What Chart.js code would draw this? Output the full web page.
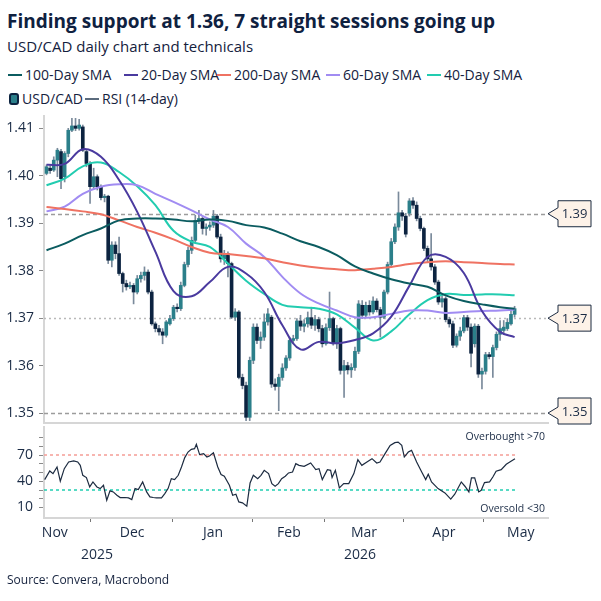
<!DOCTYPE html>
<html>
<head>
<meta charset="utf-8">
<script src="https://cdn.jsdelivr.net/npm/chart.js@4.4.1/dist/chart.umd.min.js"></script>
<style>
  body { margin: 0; background: #fff; font-family: 'Open Sans', sans-serif; color: #14213d; }
  #wrap { position: relative; width: 601px; height: 601px; overflow: hidden; }
  .t { position: absolute; left: 7px; white-space: nowrap; }
  #title { top: 7px; font-size: 19px; font-weight: 700; line-height: 28px; color: #0f2140; }
  #sub { top: 36px; font-size: 15px; line-height: 20px; }
  #src { top: 571px; font-size: 12px; line-height: 18px; }
  .leg { position: absolute; font-size: 14px; line-height: 20px; white-space: nowrap; display: flex; align-items: center; }
  .leg i { display: inline-block; width: 14px; height: 2.5px; margin-right: 3px; }
  .leg b { display: inline-block; width: 6px; height: 8px; border: 2px solid #0c2340; border-radius: 3px; background: #2b7f8a; margin-right: 3px; }
  canvas { position: absolute; left: 0; }
</style>
</head>
<body>
<div id="wrap">
  <div class="t" id="title">Finding support at 1.36, 7 straight sessions going up</div>
  <div class="t" id="sub">USD/CAD daily chart and technicals</div>
  <div id="legend"></div>
  <canvas id="main" width="601" height="320" style="top:108px"></canvas>
  <canvas id="rsi" width="601" height="150" style="top:424px"></canvas>
  <div class="t" id="src">Source: Convera, Macrobond</div>
</div>
<script>
// ── CANDLES (one per trading day, index 0 = mid-Nov 2025)
const candleOpen = [
  1.4005, 1.4016, 1.4012, 1.4033, 1.4051, 1.3998, 1.4047, 1.4096, 1.4105, 1.4100,
  1.4103, 1.4051, 1.4026, 1.3977, 1.3998, 1.3977, 1.3954, 1.3957, 1.3822, 1.3854,
  1.3836, 1.3794, 1.3773, 1.3766, 1.3769, 1.3755, 1.3783, 1.3790, 1.3797, 1.3755,
  1.3688, 1.3678, 1.3671, 1.3664, 1.3688, 1.3699, 1.3723, 1.3720, 1.3769, 1.3813,
  1.3843, 1.3864, 1.3906, 1.3910, 1.3889, 1.3892, 1.3896, 1.3915, 1.3871, 1.3825,
  1.3836, 1.3815, 1.3702, 1.3713, 1.3575, 1.3558, 1.3491, 1.3611, 1.3681, 1.3653,
  1.3660, 1.3692, 1.3702, 1.3561, 1.3556, 1.3575, 1.3595, 1.3616, 1.3653, 1.3657,
  1.3694, 1.3683, 1.3688, 1.3701, 1.3685, 1.3697, 1.3678, 1.3646, 1.3680, 1.3699,
  1.3646, 1.3678, 1.3590, 1.3600, 1.3591, 1.3596, 1.3630, 1.3727, 1.3706, 1.3727,
  1.3713, 1.3736, 1.3718, 1.3702, 1.3755, 1.3813, 1.3861, 1.3892, 1.3922, 1.3915,
  1.3921, 1.3947, 1.3938, 1.3910, 1.3889, 1.3847, 1.3825, 1.3808, 1.3776, 1.3734,
  1.3741, 1.3697, 1.3688, 1.3643, 1.3662, 1.3673, 1.3701, 1.3681, 1.3646, 1.3683,
  1.3582, 1.3588, 1.3623, 1.3619, 1.3638, 1.3666, 1.3674, 1.3678, 1.3688, 1.3708
];
const candleClose = [
  1.4019, 1.4011, 1.4033, 1.4054, 1.3994, 1.4047, 1.4096, 1.4105, 1.4100, 1.4107,
  1.4054, 1.4026, 1.3977, 1.3998, 1.3977, 1.3954, 1.3957, 1.3822, 1.3854, 1.3836,
  1.3794, 1.3773, 1.3766, 1.3769, 1.3755, 1.3783, 1.3790, 1.3797, 1.3755, 1.3688,
  1.3678, 1.3671, 1.3664, 1.3692, 1.3699, 1.3723, 1.3720, 1.3769, 1.3813, 1.3843,
  1.3864, 1.3906, 1.3910, 1.3889, 1.3892, 1.3896, 1.3915, 1.3871, 1.3825, 1.3836,
  1.3815, 1.3702, 1.3713, 1.3575, 1.3558, 1.3491, 1.3611, 1.3681, 1.3653, 1.3660,
  1.3692, 1.3709, 1.3561, 1.3556, 1.3575, 1.3595, 1.3616, 1.3653, 1.3657, 1.3694,
  1.3683, 1.3688, 1.3701, 1.3685, 1.3697, 1.3678, 1.3646, 1.3680, 1.3699, 1.3646,
  1.3678, 1.3590, 1.3600, 1.3591, 1.3596, 1.3630, 1.3730, 1.3706, 1.3727, 1.3713,
  1.3736, 1.3718, 1.3702, 1.3755, 1.3813, 1.3861, 1.3892, 1.3922, 1.3915, 1.3877,
  1.3947, 1.3938, 1.3910, 1.3889, 1.3847, 1.3825, 1.3808, 1.3776, 1.3734, 1.3741,
  1.3697, 1.3688, 1.3643, 1.3662, 1.3673, 1.3701, 1.3681, 1.3626, 1.3683, 1.3582,
  1.3588, 1.3623, 1.3619, 1.3638, 1.3666, 1.3678, 1.3681, 1.3691, 1.3708, 1.3720
];
const candleHigh = [
  1.4023, 1.4021, 1.4040, 1.4058, 1.4056, 1.4051, 1.4100, 1.4121, 1.4121, 1.4119,
  1.4107, 1.4054, 1.4030, 1.4016, 1.4002, 1.3981, 1.3961, 1.3959, 1.3861, 1.3861,
  1.3871, 1.3797, 1.3780, 1.3776, 1.3773, 1.3790, 1.3797, 1.3808, 1.3802, 1.3759,
  1.3692, 1.3685, 1.3678, 1.3695, 1.3706, 1.3727, 1.3730, 1.3776, 1.3818, 1.3850,
  1.3871, 1.3917, 1.3927, 1.3915, 1.3899, 1.3903, 1.3927, 1.3919, 1.3877, 1.3843,
  1.3840, 1.3818, 1.3720, 1.3716, 1.3582, 1.3565, 1.3618, 1.3688, 1.3688, 1.3671,
  1.3709, 1.3720, 1.3706, 1.3572, 1.3582, 1.3604, 1.3621, 1.3660, 1.3664, 1.3699,
  1.3706, 1.3697, 1.3713, 1.3723, 1.3706, 1.3702, 1.3685, 1.3688, 1.3755, 1.3702,
  1.3685, 1.3681, 1.3611, 1.3607, 1.3604, 1.3639, 1.3737, 1.3737, 1.3734, 1.3737,
  1.3745, 1.3741, 1.3723, 1.3759, 1.3818, 1.3868, 1.3899, 1.3966, 1.3927, 1.3921,
  1.3952, 1.3954, 1.3945, 1.3915, 1.3892, 1.3852, 1.3878, 1.3813, 1.3780, 1.3748,
  1.3745, 1.3702, 1.3694, 1.3667, 1.3681, 1.3706, 1.3706, 1.3688, 1.3688, 1.3687,
  1.3595, 1.3628, 1.3628, 1.3643, 1.3671, 1.3695, 1.3695, 1.3699, 1.3720, 1.3725
];
const candleLow = [
  1.4002, 1.4005, 1.4009, 1.3998, 1.3973, 1.3987, 1.4040, 1.4093, 1.4095, 1.4096,
  1.4051, 1.4019, 1.3942, 1.3973, 1.3970, 1.3949, 1.3945, 1.3815, 1.3808, 1.3825,
  1.3790, 1.3755, 1.3759, 1.3762, 1.3730, 1.3751, 1.3776, 1.3780, 1.3751, 1.3685,
  1.3671, 1.3664, 1.3646, 1.3660, 1.3685, 1.3695, 1.3713, 1.3716, 1.3766, 1.3808,
  1.3836, 1.3861, 1.3899, 1.3877, 1.3875, 1.3885, 1.3891, 1.3868, 1.3818, 1.3813,
  1.3787, 1.3699, 1.3695, 1.3572, 1.3551, 1.3484, 1.3484, 1.3604, 1.3646, 1.3636,
  1.3653, 1.3685, 1.3554, 1.3548, 1.3505, 1.3569, 1.3590, 1.3611, 1.3646, 1.3653,
  1.3674, 1.3671, 1.3681, 1.3678, 1.3674, 1.3671, 1.3639, 1.3643, 1.3674, 1.3643,
  1.3636, 1.3582, 1.3533, 1.3582, 1.3575, 1.3590, 1.3625, 1.3699, 1.3702, 1.3706,
  1.3709, 1.3713, 1.3660, 1.3699, 1.3751, 1.3808, 1.3857, 1.3885, 1.3906, 1.3871,
  1.3915, 1.3931, 1.3905, 1.3884, 1.3842, 1.3818, 1.3801, 1.3771, 1.3729, 1.3723,
  1.3692, 1.3681, 1.3638, 1.3639, 1.3653, 1.3669, 1.3674, 1.3597, 1.3639, 1.3575,
  1.3551, 1.3582, 1.3614, 1.3575, 1.3633, 1.3653, 1.3669, 1.3674, 1.3685, 1.3702
];

// ── MOVING AVERAGES (read every 5 sessions)
const smaIdx = [0, 5, 10, 15, 20, 25, 30, 35, 40, 45, 50, 55, 60, 65, 70, 75, 80, 85, 90, 95, 100, 105, 110, 115, 120, 125, 129];
const sma100 = [1.3843, 1.3857, 1.3875, 1.3889, 1.3906, 1.3910, 1.3910, 1.3908, 1.3904, 1.3908, 1.3905, 1.3896, 1.3891, 1.3878, 1.3862, 1.3850, 1.3833, 1.3809, 1.3794, 1.3782, 1.3773, 1.3766, 1.3748, 1.3736, 1.3729, 1.3723, 1.3720];
const sma20  = [1.4023, 1.4025, 1.4056, 1.4040, 1.3991, 1.3924, 1.3840, 1.3757, 1.3746, 1.3776, 1.3808, 1.3794, 1.3755, 1.3685, 1.3634, 1.3650, 1.3647, 1.3654, 1.3668, 1.3703, 1.3768, 1.3829, 1.3829, 1.3795, 1.3715, 1.3671, 1.3660];
const sma200 = [1.3934, 1.3930, 1.3925, 1.3919, 1.3906, 1.3892, 1.3880, 1.3866, 1.3850, 1.3838, 1.3835, 1.3831, 1.3826, 1.3818, 1.3811, 1.3806, 1.3803, 1.3801, 1.3804, 1.3808, 1.3814, 1.3818, 1.3820, 1.3818, 1.3816, 1.3814, 1.3813];
const sma60  = [1.3925, 1.3935, 1.3962, 1.3977, 1.3982, 1.3980, 1.3962, 1.3945, 1.3927, 1.3908, 1.3892, 1.3857, 1.3829, 1.3787, 1.3752, 1.3731, 1.3716, 1.3702, 1.3702, 1.3709, 1.3716, 1.3716, 1.3711, 1.3713, 1.3715, 1.3716, 1.3718];
const sma40  = [1.3980, 1.3994, 1.4020, 1.4028, 1.4008, 1.3978, 1.3938, 1.3884, 1.3861, 1.3850, 1.3815, 1.3779, 1.3751, 1.3728, 1.3723, 1.3720, 1.3708, 1.3680, 1.3653, 1.3672, 1.3708, 1.3738, 1.3751, 1.3749, 1.3750, 1.3750, 1.3748];

// ── RSI (14-day)
const rsiX = [-0.5, 0.9, 1.8, 2.9, 3.8, 4.9, 6.1, 7.5, 8.6, 9.3, 10, 11, 11.9, 12.8, 13.9, 14.8, 15.7, 16.6, 17.5, 18.4,
  19.4, 20.3, 21.6, 22.6, 23.5, 24.4, 25.3, 26.5, 27.6, 28.5, 29.4, 30.3, 31.7, 32.6, 33.5, 34.4, 35.3, 36.3, 37.2, 38.1,
  39, 39.9, 40.8, 41.3, 42.2, 43.3, 44.2, 44.9, 46, 47.2, 48.1, 49, 50.4, 51.3, 52.2, 53, 54, 55.2, 56.1, 57,
  58.2, 59.1, 60, 61.2, 62.1, 63, 63.9, 64.8, 65.8, 66.7, 67.8, 68.7, 69.6, 71, 72.8, 74.2, 75.1, 76, 77.4, 78.3,
  78.7, 79.6, 80.7, 81.9, 83.3, 84.7, 85.8, 86.9, 88.3, 89.7, 91, 91.9, 93.3, 94.7, 96, 96.9, 97.9, 98.6, 99.7, 100.6,
  102, 103.4, 104.5, 105.2, 106.1, 107.9, 109.8, 111.4, 112.5, 114.3, 115.3, 116.4, 117.1, 118, 119.1, 119.8, 120.7, 122.1, 123, 123.9,
  125.3, 126.7, 128, 129.1];
const rsiY = [41.9, 51.8, 48.7, 56.3, 40.0, 54.4, 62.0, 63.2, 62.0, 58.2, 46.8, 44.2, 33.5, 39.2, 33.5, 31.6, 35.4, 18.3, 29.0, 27.8,
  24.0, 21.4, 21.4, 21.0, 19.1, 31.6, 30.5, 39.2, 27.8, 22.1, 21.4, 21.0, 21.0, 25.9, 31.6, 43.0, 41.9, 46.8, 56.3, 67.0,
  73.4, 76.5, 77.2, 82.2, 70.4, 71.5, 67.7, 68.9, 72.5, 56.3, 47.6, 45.7, 35.4, 24.0, 25.2, 16.4, 15.3, 11.5, 38.1, 46.8,
  43.0, 46.8, 52.5, 48.7, 37.3, 34.3, 37.3, 43.0, 45.7, 49.5, 50.6, 60.1, 58.2, 57.1, 60.9, 53.3, 54.4, 41.9, 53.3, 52.5,
  44.2, 52.5, 32.4, 37.3, 37.3, 48.7, 64.7, 58.2, 62.0, 65.8, 60.9, 62.0, 71.5, 81.0, 84.1, 84.8, 81.0, 67.7, 73.4, 75.3,
  62.0, 50.6, 41.9, 48.0, 39.2, 31.6, 26.7, 19.5, 25.2, 39.2, 34.3, 27.8, 43.8, 43.8, 27.8, 29.7, 38.5, 39.2, 44.9, 51.4,
  53.3, 59.4, 62.8, 65.8];
const rsiBands = [70, 30];
const rsiBandX = [-0.69, 129.6];

// ── AXES / LABELS
const priceTicks = [1.35, 1.36, 1.37, 1.38, 1.39, 1.40, 1.41];
const rsiTicks = [10, 20, 30, 40, 50, 60, 70, 80, 90];
const rsiTickLabels = [10, 40, 70];
const monthBounds = [12.2, 34.8, 56.9, 76.7, 98.5, 120.5];
const monthLabels = ['Nov', 'Dec', 'Jan', 'Feb', 'Mar', 'Apr', 'May'];
const monthPos = [2.3, 23.6, 45.9, 66.8, 87.5, 109.5, 130.7];
const yearLabels = ['2025', '2026'];
const yearPos = [13.9, 86.4];
const levelValues = [1.392, 1.37, 1.35];
const levelLabels = ['1.39', '1.37', '1.35'];

const X_MIN = -0.69, X_MAX = 138.2;
const TXT = '#1a2b45';
const FONT = "'Open Sans', sans-serif";
Chart.defaults.font.family = FONT;
Chart.defaults.color = TXT;

const series = [
  { label: '100-Day SMA', data: sma100, color: '#0b5c60' },
  { label: '20-Day SMA',  data: sma20,  color: '#4a3a9f' },
  { label: '200-Day SMA', data: sma200, color: '#ef7262' },
  { label: '60-Day SMA',  data: sma60,  color: '#a18cf2' },
  { label: '40-Day SMA',  data: sma40,  color: '#22ccb0' },
];

// ── LEGENDA (html)
const legPos = [[8, 65], [124, 65], [217, 65], [326, 65], [427, 65]];
let legHtml = series.map((s, i) =>
  `<div class="leg" style="left:${legPos[i][0]}px;top:${legPos[i][1]}px"><i style="background:${s.color}"></i>${s.label}</div>`).join('');
legHtml += `<div class="leg" style="left:9px;top:89px"><b></b>USD/CAD</div>`;
legHtml += `<div class="leg" style="left:85px;top:89px"><i style="background:#5b6b7d"></i>RSI (14-day)</div>`;
document.getElementById('legend').innerHTML = legHtml;

// sem padding automático dos rótulos extremos
const noPad = s => { s.paddingTop = 0; s.paddingBottom = 0; s.paddingLeft = 0; s.paddingRight = 0; };

// ── PLUGINS
const levelsPlugin = {
  id: 'levels',
  beforeDatasetsDraw(chart) {
    const { ctx, chartArea: a, scales: { y } } = chart;
    ctx.save();
    levelValues.forEach((v, k) => {
      const py = Math.round(y.getPixelForValue(v)) + 0.5;
      ctx.beginPath();
      ctx.setLineDash(k === 1 ? [2, 3] : [4, 3]);
      ctx.strokeStyle = k === 1 ? '#b9b9b9' : '#9c9c9c';
      ctx.lineWidth = 1.3;
      ctx.moveTo(a.left, py);
      ctx.lineTo(a.right, py);
      ctx.stroke();
    });
    ctx.restore();
  },
  afterDraw(chart) {
    const { ctx, chartArea: a, scales: { y } } = chart;
    ctx.save();
    levelValues.forEach((v, k) => {
      const py = y.getPixelForValue(v);
      const bx = a.right + 10, bw = 33, bh = 26;
      const cy = Math.min(py, a.bottom - bh / 2 + 1);
      ctx.beginPath();
      ctx.moveTo(a.right, py);
      ctx.lineTo(bx, py - 6);
      ctx.lineTo(bx, cy - bh / 2);
      ctx.lineTo(bx + bw, cy - bh / 2);
      ctx.lineTo(bx + bw, cy + bh / 2);
      ctx.lineTo(bx, cy + bh / 2);
      ctx.lineTo(bx, py + 6);
      ctx.closePath();
      ctx.fillStyle = '#fdf2e8';
      ctx.fill();
      ctx.strokeStyle = '#1b2a41';
      ctx.lineWidth = 1;
      ctx.stroke();
      ctx.fillStyle = TXT;
      ctx.font = `13px ${FONT}`;
      ctx.textAlign = 'center';
      ctx.textBaseline = 'middle';
      ctx.fillText(levelLabels[k], bx + bw / 2, cy + 1);
    });
    ctx.restore();
  }
};

const rsiTextPlugin = {
  id: 'rsiText',
  afterDraw(chart) {
    const { ctx, chartArea: a, scales: { x } } = chart;
    ctx.save();
    ctx.fillStyle = TXT;
    ctx.font = `10.5px ${FONT}`;
    ctx.textAlign = 'right';
    ctx.textBaseline = 'middle';
    ctx.fillText('Overbought >70', a.right - 3, a.top + 10);
    ctx.fillText('Oversold <30', a.right - 3, a.bottom - 9);
    ctx.font = `14px ${FONT}`;
    ctx.textAlign = 'center';
    monthLabels.forEach((m, i) => ctx.fillText(m, x.getPixelForValue(monthPos[i]), a.bottom + 15));
    yearLabels.forEach((yl, i) => ctx.fillText(yl, x.getPixelForValue(yearPos[i]), a.bottom + 37));
    ctx.restore();
  }
};

// ── CHART PRINCIPAL
const idx = candleOpen.map((_, i) => i);
const upColor = '#2b7f8a', downColor = '#0c2340';

new Chart(document.getElementById('main'), {
  type: 'bar',
  data: {
    datasets: [
      ...series.map(s => ({
        type: 'line', label: s.label,
        data: smaIdx.map((x, i) => ({ x, y: s.data[i] })),
        borderColor: s.color, borderWidth: 2, pointRadius: 0, tension: 0.4, order: 1
      })),
      {
        label: 'wick', data: idx.map(i => ({ x: i, y: [candleLow[i], candleHigh[i]] })),
        backgroundColor: '#7a8a9b', barThickness: 1, grouped: false, order: 3
      },
      {
        label: 'USD/CAD', data: idx.map(i => ({ x: i, y: [candleOpen[i], candleClose[i]] })),
        backgroundColor: idx.map(i => candleClose[i] >= candleOpen[i] ? upColor : downColor),
        barThickness: 3, grouped: false, minBarLength: 1, order: 2
      }
    ]
  },
  options: {
    responsive: false, animation: false,
    layout: { padding: { top: 8, right: 53, bottom: 5, left: 0 } },
    plugins: { legend: { display: false }, tooltip: { enabled: false } },
    scales: {
      x: {
        type: 'linear', min: X_MIN, max: X_MAX, offset: false,
        ticks: { display: false }, grid: { display: false },
        border: { display: true, color: '#d6d6d6', width: 2 },
        afterFit: s => { s.height = 0; noPad(s); }
      },
      y: {
        min: 1.3479, max: 1.4126,
        afterBuildTicks: s => { s.ticks = priceTicks.map(v => ({ value: v })); },
        ticks: { callback: v => v.toFixed(2), font: { size: 14 }, color: TXT, padding: 5 },
        grid: { drawOnChartArea: false, tickLength: 5, color: '#8a8a8a' },
        border: { display: true, color: '#d6d6d6', width: 2 },
        afterFit: s => { s.width = 44; noPad(s); }
      }
    }
  },
  plugins: [levelsPlugin]
});

// ── RSI
new Chart(document.getElementById('rsi'), {
  type: 'line',
  data: {
    datasets: [
      {
        label: 'RSI (14-day)', data: rsiX.map((x, i) => ({ x, y: rsiY[i] })),
        borderColor: '#1c2b40', borderWidth: 1.2, pointRadius: 0, tension: 0
      },
      ...rsiBands.map((b, k) => ({
        label: 'band' + b, data: rsiBandX.map(x => ({ x, y: b })),
        borderColor: k === 0 ? '#f5a49d' : '#2fd2b6', borderWidth: 1.6, borderDash: [3, 3], pointRadius: 0
      }))
    ]
  },
  options: {
    responsive: false, animation: false,
    layout: { padding: { top: 3, right: 53, bottom: 0, left: 0 } },
    plugins: { legend: { display: false }, tooltip: { enabled: false } },
    scales: {
      x: {
        type: 'linear', min: X_MIN, max: X_MAX,
        afterBuildTicks: s => { s.ticks = monthBounds.map(v => ({ value: v })); },
        ticks: { callback: () => '', autoSkip: false },
        grid: { drawOnChartArea: false, tickLength: 4, color: '#777' },
        border: { display: true, color: '#d6d6d6', width: 2 },
        afterFit: s => { s.height = 56; noPad(s); }
      },
      y: {
        min: -2, max: 102,
        afterBuildTicks: s => { s.ticks = rsiTicks.map(v => ({ value: v })); },
        ticks: { callback: v => rsiTickLabels.includes(v) ? String(v) : '', font: { size: 14 }, color: TXT, padding: 6, autoSkip: false },
        grid: { drawOnChartArea: false, tickLength: 5, color: '#8a8a8a' },
        border: { display: true, color: '#d6d6d6', width: 2 },
        afterFit: s => { s.width = 44; noPad(s); }
      }
    }
  },
  plugins: [rsiTextPlugin]
});
</script>
</body>
</html>
